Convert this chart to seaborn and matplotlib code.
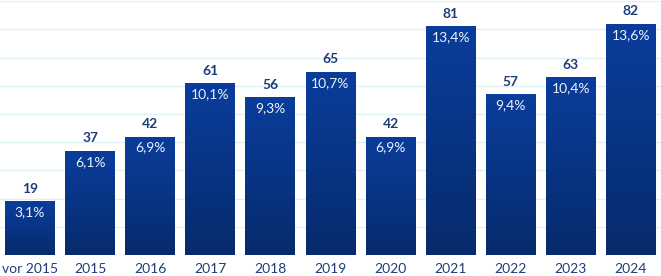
import numpy as np
import pandas as pd
import matplotlib
matplotlib.use("Agg")
import matplotlib.pyplot as plt
import seaborn as sns
from matplotlib.colors import LinearSegmentedColormap

# Daten
jahre = ["vor 2015", "2015", "2016", "2017", "2018", "2019", "2020", "2021", "2022", "2023", "2024"]
anzahl = [19, 37, 42, 61, 56, 65, 42, 81, 57, 63, 82]
anteil = ["3,1%", "6,1%", "6,9%", "10,1%", "9,3%", "10,7%", "6,9%", "13,4%", "9,4%", "10,4%", "13,6%"]

df = pd.DataFrame({"jahr": jahre, "anzahl": anzahl})

sns.set_style("white")
plt.rcParams["font.family"] = ["Lato", "DejaVu Sans"]

fig = plt.figure(figsize=(6.61, 2.76), dpi=100)
ax = fig.add_axes([0, 0.076, 1, 0.92])

sns.barplot(x="jahr", y="anzahl", data=df, color="#0b3a96", width=0.83, ax=ax, zorder=2)

ax.set_ylim(0, 90)
ax.set_xlim(-0.5, len(jahre) - 0.5)
ax.set_yticks(np.arange(0, 91, 10))
ax.yaxis.grid(True, color="#def1f5", linewidth=1, zorder=0)
ax.set_axisbelow(True)
for s in ax.spines.values():
    s.set_visible(False)
ax.set_yticklabels([])
ax.tick_params(axis="y", length=0)
ax.tick_params(axis="x", length=0, pad=6, labelsize=10, labelcolor="#1f3c78")
ax.set_xlabel("")
ax.set_ylabel("")

# Farbverlauf in den Balken
cmap = LinearSegmentedColormap.from_list("blau", ["#072b6c", "#0a3d9c"])
grad = np.linspace(0, 1, 256).reshape(-1, 1)
for bar in ax.patches:
    x0, y0 = bar.get_x(), bar.get_y()
    w, h = bar.get_width(), bar.get_height()
    im = ax.imshow(grad, cmap=cmap, aspect="auto", origin="lower",
                   extent=[x0, x0 + w, y0, y0 + h], zorder=3)
    im.set_clip_path(bar)
    bar.set_edgecolor("none")

for i, (n, p) in enumerate(zip(anzahl, anteil)):
    ax.text(i, n + 2.2, str(n), ha="center", va="bottom", fontsize=10,
            fontweight="bold", color="#1f3c78", zorder=4)
    ax.text(i, n - 1.8, p, ha="center", va="top", fontsize=10,
            color="#eef2fa", zorder=4)

fig.savefig("out.png", dpi=100)
